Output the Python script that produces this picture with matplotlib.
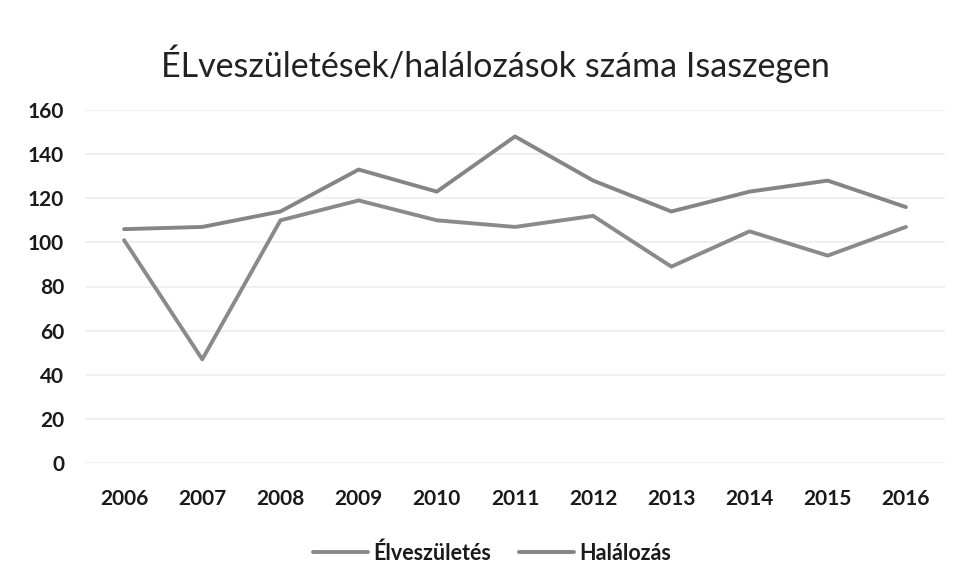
import matplotlib
matplotlib.use("Agg")
import matplotlib.pyplot as plt

years = ["2006", "2007", "2008", "2009", "2010", "2011", "2012", "2013", "2014", "2015", "2016"]
elveszuletes = [101, 47, 110, 119, 110, 107, 112, 89, 105, 94, 107]
halalozas = [106, 107, 114, 133, 123, 148, 128, 114, 123, 128, 116]
yticks = [0, 20, 40, 60, 80, 100, 120, 140, 160]

plt.rcParams['font.family'] = ['Lato', 'DejaVu Sans']

fig = plt.figure(figsize=(9.65, 5.86), dpi=100)
ax = fig.add_axes([85/965, 1-463/586, 860/965, (463-110)/586])

x = list(range(len(years)))
ax.plot(x, elveszuletes, color='#8a8a8a', lw=2.8, label='Élveszületés', solid_capstyle='round')
ax.plot(x, halalozas, color='#858585', lw=2.8, label='Halálozás', solid_capstyle='round')

ax.set_xlim(-0.5, len(years)-0.5)
ax.set_ylim(0, 160)
ax.set_yticks(yticks)
ax.set_yticklabels([str(v) for v in yticks])
ax.set_xticks(x)
ax.set_xticklabels(years)
ax.grid(axis='y', color='#ededed', lw=1.2)
ax.set_axisbelow(True)
for s in ax.spines.values():
    s.set_visible(False)
ax.tick_params(length=0, labelsize=15, colors='#1a1a1a')
ax.tick_params(axis='y', pad=15)
ax.tick_params(axis='x', pad=19)
for lbl in ax.get_xticklabels() + ax.get_yticklabels():
    lbl.set_fontweight('bold')

fig.text(495/965, 1-64/586, 'ÉLveszületések/halálozások száma Isaszegen', ha='center', va='center',
         fontsize=24.5, color='#222222')

leg = fig.legend(loc='center', bbox_to_anchor=(492/965, 1-553/586), ncol=2, frameon=False,
                 fontsize=15.5, handlelength=2.55, columnspacing=1.3, handletextpad=0.25)
for t in leg.get_texts():
    t.set_fontweight('bold')
    t.set_color('#1a1a1a')

fig.savefig('out.png', dpi=100, facecolor='white')
